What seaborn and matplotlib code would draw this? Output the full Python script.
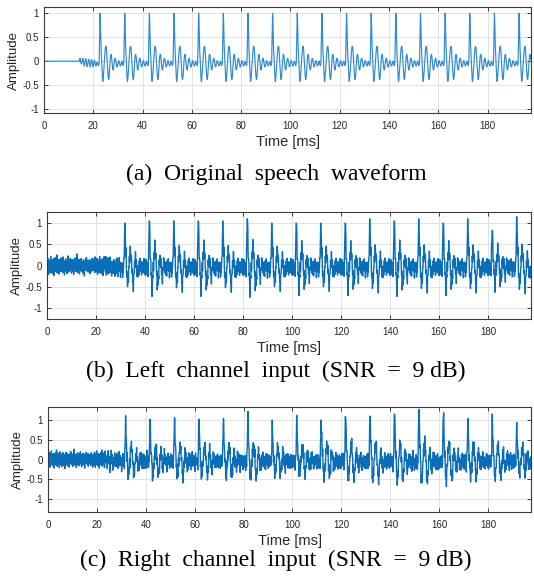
import numpy as np
import pandas as pd
import matplotlib
matplotlib.use("Agg")
import matplotlib.pyplot as plt
import seaborn as sns

# ---------------------------------------------------------------------------
# Data
# ---------------------------------------------------------------------------
SAMPLE_MS = 0.125          # 8 kHz sampling, in milliseconds
N_SAMPLES = 1581           # 0 ... 197.5 ms

# One pitch period of the clean voiced speech (80 samples = 10 ms),
# starting 0.5 ms before the glottal peak.
period_clean = [
    -0.08, 0.00, 0.30, 0.70, 1.00, 0.85, 0.55, 0.30,
    0.15, 0.05, -0.10, -0.28, -0.40, -0.42, -0.38, -0.30,
    -0.20, -0.10, 0.00, 0.10, 0.19, 0.26, 0.30, 0.31,
    0.29, 0.22, 0.12, 0.00, -0.12, -0.23, -0.32, -0.37,
    -0.38, -0.34, -0.26, -0.15, -0.04, 0.05, 0.11, 0.14,
    0.14, 0.10, 0.03, -0.05, -0.11, -0.16, -0.18, -0.18,
    -0.14, -0.09, -0.03, 0.02, 0.05, 0.06, 0.05, 0.01,
    -0.04, -0.08, -0.11, -0.12, -0.11, -0.08, -0.04, -0.01,
    0.01, 0.01, -0.01, -0.04, -0.07, -0.09, -0.10, -0.09,
    -0.06, -0.03, -0.01, 0.00, -0.02, -0.05, -0.08, -0.09,
]
PEAK_OFFSET = 4            # samples from period start to the peak

# Onset of voicing before the first glottal pulse (8 ms)
onset_clean = [
    0.00, 0.02, 0.05, 0.06, 0.04, 0.00, -0.04, -0.06,
    -0.05, -0.02, 0.02, 0.05, 0.06, 0.04, 0.00, -0.05,
    -0.09, -0.10, -0.08, -0.03, 0.02, 0.05, 0.05, 0.02,
    -0.03, -0.08, -0.11, -0.11, -0.07, -0.02, 0.02, 0.04,
    0.03, -0.01, -0.06, -0.10, -0.12, -0.10, -0.05, 0.00,
    0.03, 0.03, 0.00, -0.05, -0.09, -0.11, -0.10, -0.06,
    -0.02, 0.01, 0.02, 0.00, -0.04, -0.08, -0.10, -0.10,
    -0.07, -0.04, -0.02, -0.02, -0.04, -0.07, -0.09, -0.09,
]
onset_start_ms = 14.25

# Glottal peak times [ms]
peaks_clean = [22.75, 32.75, 42.75, 52.75, 62.75, 72.75, 82.75, 92.75, 102.75,
               112.75, 122.75, 132.75, 142.75, 152.75, 162.75, 172.75,
               182.75, 192.75]
peaks_noisy = [31.75, 41.75, 51.75, 61.75, 71.75, 81.75, 91.75, 101.75,
               111.75, 121.75, 131.75, 141.75, 151.75, 161.75, 171.75,
               181.75, 191.75]
onset_start_noisy_ms = 23.25

# Peak amplitudes of the glottal pulses in the two microphone channels
peak_left = [1.00, 1.05, 1.05, 1.05, 1.05, 1.10, 1.00, 1.00, 1.00,
             1.00, 1.10, 1.05, 1.10, 1.00, 1.10, 0.82, 1.15]
peak_right = [1.11, 1.02, 1.06, 1.02, 1.04, 1.22, 1.00, 1.12, 1.00,
              1.07, 1.10, 1.15, 1.20, 1.06, 1.04, 1.15, 0.94]

# Additive background noise segments (looped over the recording)
noise_left = [
    0.05, -0.12, 0.08, 0.15, -0.03, -0.18, 0.02, 0.11,
    -0.07, 0.04, -0.14, 0.09, 0.19, -0.05, -0.10, 0.03,
    0.12, -0.16, 0.00, 0.07, -0.09, 0.14, -0.02, -0.20,
    0.06, 0.10, -0.04, 0.17, -0.11, 0.01, 0.08, -0.13,
    0.22, -0.06, -0.15, 0.04, 0.09, -0.01, -0.08, 0.13,
    -0.17, 0.02, 0.11, -0.05, 0.06, -0.12, 0.16, -0.03,
    -0.09, 0.07, 0.01, -0.14, 0.12, 0.18, -0.07, -0.02,
    0.05, -0.19, 0.10, 0.03, -0.06, 0.14, -0.11, 0.08,
    -0.01, -0.16, 0.09, 0.04, -0.08, 0.20, -0.04, -0.13,
    0.06, 0.11, -0.10, 0.02, 0.15, -0.07, -0.03, 0.09,
    -0.15, 0.05, 0.13, -0.02, -0.11, 0.07, 0.01, -0.18,
    0.12, -0.05, 0.08, 0.16, -0.09, -0.01, 0.04, -0.12,
    0.10, -0.06, 0.24, -0.03, -0.14, 0.06, 0.09, -0.08,
    0.02, 0.13, -0.17, 0.05, -0.04, 0.11, -0.10, 0.07,
    0.15, -0.02, -0.12, 0.03, 0.08, -0.15, 0.01, 0.12,
    -0.07, 0.06, -0.21, 0.09, 0.04, -0.03, 0.14, -0.09,
    0.00, 0.17, -0.06, -0.11, 0.10, 0.02, -0.13, 0.07,
    0.05, -0.08, 0.12, -0.01, -0.16, 0.08, 0.03, -0.05,
    0.11, -0.12, 0.06, 0.15, -0.04, -0.09, 0.01, 0.13,
    -0.10, 0.04, -0.02, 0.09, -0.14, 0.18, -0.07, 0.03,
]
noise_right = [
    -0.04, 0.10, -0.13, 0.06, 0.16, -0.08, 0.01, -0.17,
    0.12, 0.03, -0.06, 0.19, -0.11, -0.02, 0.08, -0.14,
    0.05, 0.13, -0.09, 0.00, -0.19, 0.11, 0.07, -0.03,
    0.15, -0.12, 0.04, -0.07, 0.21, -0.01, -0.15, 0.09,
    0.02, -0.10, 0.14, -0.05, 0.06, -0.18, 0.10, 0.17,
    -0.06, -0.12, 0.03, 0.08, -0.02, 0.12, -0.16, 0.05,
    -0.09, 0.15, 0.01, -0.13, 0.07, -0.04, 0.11, -0.20,
    0.04, 0.09, -0.08, 0.16, -0.03, -0.11, 0.13, 0.00,
    -0.14, 0.06, 0.10, -0.05, 0.02, -0.17, 0.12, 0.08,
    -0.10, 0.03, 0.18, -0.07, -0.01, 0.14, -0.12, 0.05,
    0.09, -0.15, 0.01, 0.11, -0.06, 0.23, -0.09, -0.03,
    0.07, -0.13, 0.04, 0.12, -0.02, -0.18, 0.10, 0.06,
    -0.08, 0.15, -0.11, 0.02, 0.08, -0.05, -0.14, 0.13,
    0.03, -0.07, 0.17, -0.10, 0.00, 0.09, -0.16, 0.11,
    0.05, -0.04, -0.12, 0.14, 0.07, -0.09, 0.01, 0.10,
    -0.19, 0.06, 0.12, -0.03, -0.08, 0.16, -0.06, 0.04,
    0.08, -0.11, 0.02, 0.13, -0.15, 0.07, -0.01, -0.10,
    0.11, 0.04, -0.06, 0.09, -0.13, 0.03, 0.15, -0.08,
    -0.02, 0.10, -0.17, 0.05,
]
NOISE_LEVEL = 1.15

x_ticks = [0, 20, 40, 60, 80, 100, 120, 140, 160, 180]
y_ticks = [-1, -0.5, 0, 0.5, 1]
y_tick_labels = ["-1", "-0.5", "0", "0.5", "1"]

captions = [
    "(a)  Original  speech  waveform",
    "(b)  Left  channel  input  (SNR  =  9 dB)",
    "(c)  Right  channel  input  (SNR  =  9 dB)",
]


# ---------------------------------------------------------------------------
# Signal assembly
# ---------------------------------------------------------------------------
time_ms = np.arange(N_SAMPLES) * SAMPLE_MS


def idx(ms):
    return int(round(ms / SAMPLE_MS))


def place(signal, start_ms, segment):
    i0 = idx(start_ms)
    seg = np.asarray(segment, dtype=float)
    i1 = min(i0 + len(seg), len(signal))
    signal[i0:i1] += seg[: i1 - i0]


def voiced(peaks, gains, onset_ms):
    s = np.zeros(N_SAMPLES)
    place(s, onset_ms, onset_clean)
    for p, g in zip(peaks, gains):
        place(s, p - PEAK_OFFSET * SAMPLE_MS, np.asarray(period_clean) * g)
    return s


def noisy(peaks, heights, noise):
    n = np.resize(np.asarray(noise) * NOISE_LEVEL, N_SAMPLES)
    # speech gain chosen so each glottal peak lands on its stated height
    gains = [h - n[idx(p)] for p, h in zip(peaks, heights)]
    return voiced(peaks, gains, onset_start_noisy_ms) + n


clean = voiced(peaks_clean, [1.0] * len(peaks_clean), onset_start_ms)
left = noisy(peaks_noisy, peak_left, noise_left)
right = noisy(peaks_noisy, peak_right, noise_right)

df = pd.DataFrame({"time": time_ms, "clean": clean, "left": left, "right": right})

# ---------------------------------------------------------------------------
# Figure
# ---------------------------------------------------------------------------
sns.set_theme(style="whitegrid")
plt.rcParams["font.family"] = ["Liberation Sans", "DejaVu Sans"]

W, H = 534, 579
fig = plt.figure(figsize=(W / 100, H / 100), dpi=100)
fig.patch.set_facecolor("white")

# (left, top, right, bottom) in pixels, y limits, line colour/width, caption y
panels = [
    ("clean", (44, 7, 531, 113), (-1.08, 1.13), "#2f8ad2", 0.85, 174),
    ("left", (47, 212, 531, 319), (-1.25, 1.26), "#0a6db8", 1.0, 371),
    ("right", (48, 407, 531, 512), (-1.33, 1.33), "#0a6db8", 1.0, 560),
]

INK = "#262626"

for (col, (l, t, r, b), ylim, color, lw, cap_y), caption in zip(panels, captions):
    ax = fig.add_axes([l / W, 1 - b / H, (r - l) / W, (b - t) / H])
    sns.lineplot(data=df, x="time", y=col, ax=ax, color=color, linewidth=lw,
                 estimator=None, errorbar=None, sort=False)
    ax.set_xlim(0, 197.6)
    ax.set_ylim(*ylim)
    ax.set_xticks(x_ticks)
    ax.set_xticklabels([str(v) for v in x_ticks])
    ax.set_yticks(y_ticks)
    ax.set_yticklabels(y_tick_labels)
    ax.set_facecolor("white")
    ax.grid(True, color="#dedede", linewidth=0.6)
    for sp in ax.spines.values():
        sp.set_visible(True)
        sp.set_color("#3a3a3a")
        sp.set_linewidth(0.8)
    ax.tick_params(direction="in", length=3, width=0.7, color="#3a3a3a",
                   top=True, right=True, bottom=True, left=True,
                   labelsize=7, labelcolor=INK)
    ax.tick_params(axis="x", pad=5.5)
    ax.tick_params(axis="y", pad=3.5)
    ax.set_xlabel("Time [ms]", fontsize=10.5, color=INK, labelpad=3)
    ax.set_ylabel("Amplitude", fontsize=9.5, color=INK, labelpad=2)
    fig.text(276 / W, 1 - cap_y / H, caption, ha="center", va="center",
             fontsize=17, color="black",
             family=["Liberation Serif", "DejaVu Serif"])

fig.savefig("out.png", dpi=100, facecolor="white")
